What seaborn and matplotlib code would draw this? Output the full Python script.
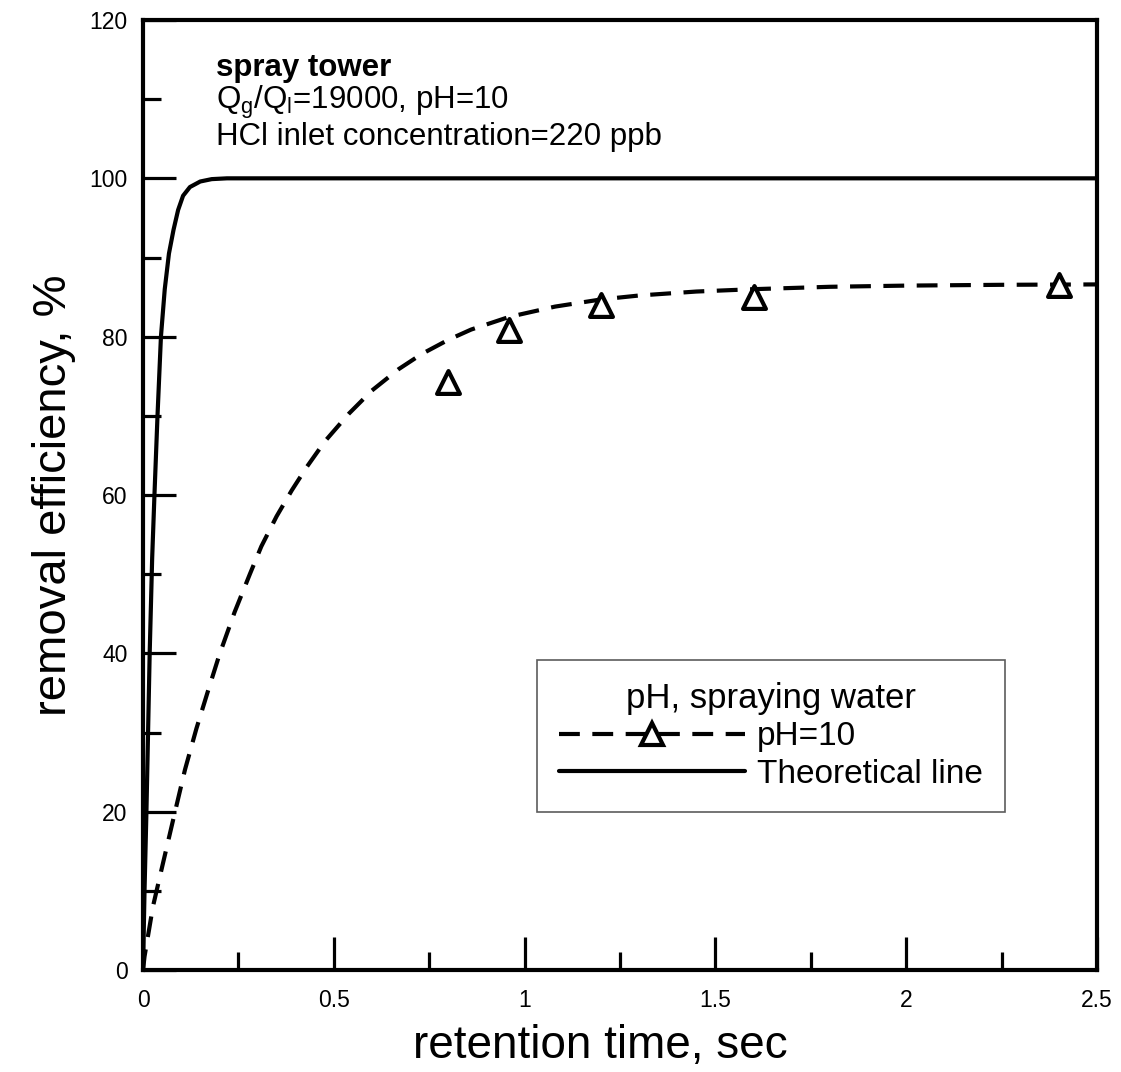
import matplotlib
matplotlib.use("Agg")
import matplotlib.pyplot as plt
from matplotlib.lines import Line2D
from matplotlib.ticker import MultipleLocator
import seaborn as sns

# ---- data ----
meas_x = [0.80, 0.96, 1.20, 1.60, 2.40]
meas_y = [74.3, 80.8, 84.0, 85.0, 86.5]

fit_x = [0, 0.004, 0.026, 0.05, 0.083, 0.11, 0.14, 0.17, 0.20, 0.24, 0.28, 0.31,
         0.35, 0.39, 0.43, 0.477, 0.54, 0.60, 0.67, 0.73, 0.80, 0.86, 0.96,
         1.08, 1.20, 1.30, 1.45, 1.60, 1.80, 2.00, 2.25, 2.50]
fit_y = [0, 1.7, 8.0, 13.0, 19.8, 25.3, 30.5, 35.2, 39.8, 45.2, 50.0, 53.5,
         57.3, 60.6, 63.6, 66.8, 70.3, 73.2, 75.9, 77.8, 79.6, 80.9, 82.5,
         83.8, 84.7, 85.2, 85.7, 86.0, 86.3, 86.45, 86.55, 86.6]

theo_x = [0, 0.004, 0.009, 0.0175, 0.024, 0.030, 0.038, 0.047, 0.057, 0.068,
          0.08, 0.092, 0.105, 0.123, 0.15, 0.18, 0.22, 0.30, 2.50]
theo_y = [0, 10, 20, 40, 52, 60, 70, 80, 86, 90.5, 93.5, 96, 97.8, 98.9,
          99.6, 99.9, 100, 100, 100]

x_ticks = [0, 0.5, 1, 1.5, 2, 2.5]
x_tick_labels = ["0", "0.5", "1", "1.5", "2", "2.5"]
y_ticks = [0, 20, 40, 60, 80, 100, 120]
y_tick_labels = ["0", "20", "40", "60", "80", "100", "120"]

legend_title = "pH, spraying water"
series_labels = ["pH=10", "Theoretical line"]
note_lines = ["spray tower",
              r"Q$_\mathregular{g}$/Q$_\mathregular{l}$=19000, pH=10",
              "HCl inlet concentration=220 ppb"]

# ---- style ----
sns.set_style("ticks")
plt.rcParams["font.family"] = ["Liberation Sans", "DejaVu Sans"]
plt.rcParams["mathtext.fontset"] = "custom"
plt.rcParams["mathtext.rm"] = "Liberation Sans"
for k in ["text.color", "axes.labelcolor", "xtick.color", "ytick.color",
          "axes.edgecolor"]:
    plt.rcParams[k] = "black"

W, H = 1121, 1072
fig = plt.figure(figsize=(W / 100, H / 100), dpi=100)
ax = fig.add_axes([143 / W, 1 - 970 / H, (1097 - 143) / W, (970 - 20) / H])

sns.lineplot(x=theo_x, y=theo_y, ax=ax, color="black", linewidth=3,
             estimator=None, sort=False)
sns.lineplot(x=fit_x, y=fit_y, ax=ax, color="black", linewidth=3,
             estimator=None, sort=False)
ax.lines[-1].set_linestyle((0, (5, 3)))
sns.scatterplot(x=meas_x, y=meas_y, ax=ax, marker="^", s=270,
                facecolor="white", edgecolor="black", linewidth=3, zorder=5)

ax.set_xlim(0, 2.5)
ax.set_ylim(0, 120)
ax.set_xticks(x_ticks)
ax.set_xticklabels(x_tick_labels)
ax.set_yticks(y_ticks)
ax.set_yticklabels(y_tick_labels)
ax.xaxis.set_minor_locator(MultipleLocator(0.25))
ax.yaxis.set_minor_locator(MultipleLocator(10))
ax.tick_params(which="both", direction="in", top=False, right=False,
               colors="black", labelsize=16.5)
ax.tick_params(which="major", length=24, width=2.3)
ax.tick_params(which="minor", length=13, width=2.3)
ax.tick_params(axis="x", which="major", pad=14)
ax.tick_params(axis="y", which="major", pad=11)
for sp in ax.spines.values():
    sp.set_linewidth(3)
    sp.set_color("black")

ax.set_xlabel("retention time, sec", fontsize=33, labelpad=8)
ax.xaxis.label.set_x((600 - 143) / 954)
ax.set_ylabel("removal efficiency, %", fontsize=34, labelpad=10)

ys = [113.9, 109.6, 105.2]
ax.text(0.19, ys[0], note_lines[0], fontsize=22.5, fontweight="bold", va="center")
ax.text(0.19, ys[1], note_lines[1], fontsize=22.5, va="center")
ax.text(0.19, ys[2], note_lines[2], fontsize=22.5, va="center")

handles = [
    Line2D([], [], color="black", lw=3, ls=(0, (5, 3)), marker="^",
           markersize=16, markerfacecolor="white", markeredgecolor="black",
           markeredgewidth=3),
    Line2D([], [], color="black", lw=3),
]
leg = ax.legend(handles, series_labels, title=legend_title, loc="upper left",
                bbox_to_anchor=((537 - 143) / 954, (970 - 660) / 950),
                fontsize=24, title_fontsize=25, handlelength=5.6,
                handletextpad=0.35, labelspacing=0.2, borderpad=0.65,
                frameon=True, fancybox=False, alignment="center",
                borderaxespad=0)
leg.get_frame().set_edgecolor("#333333")
leg.get_frame().set_linewidth(1.2)

fig.savefig("out.png", dpi=100)
